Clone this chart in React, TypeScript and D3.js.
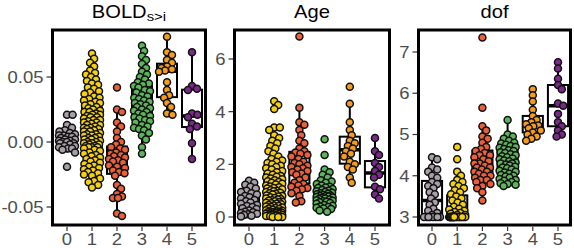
import React from 'react';
import * as d3 from 'd3';

const categories = ['0', '1', '2', '3', '4', '5'];
const colors = ['#a89fa8', '#f5d10f', '#e9603b', '#5db55a', '#f39c1e', '#7b2a8b'];

// BOLD s>i
const bold0 = [0.021, 0.021, 0.013, 0.011, 0.009, 0.008, 0.007, 0.006, 0.005, 0.005, 0.004, 0.004, 0.003, 0.002, 0.002, 0.001, 0.001, 0.0, 0.0, -0.001, -0.001, -0.002, -0.003, -0.003, -0.004, -0.005, -0.005, -0.006, -0.008, -0.019];
const bold1 = [0.068, 0.064, 0.061, 0.058, 0.055, 0.053, 0.052, 0.05, 0.048, 0.047, 0.045, 0.044, 0.042, 0.041, 0.039, 0.038, 0.037, 0.035, 0.034, 0.033, 0.032, 0.031, 0.03, 0.029, 0.028, 0.027, 0.026, 0.025,
  0.024, 0.023, 0.023, 0.022, 0.021, 0.021, 0.02, 0.019, 0.019, 0.018, 0.017, 0.017, 0.016, 0.015, 0.015, 0.014, 0.013, 0.013, 0.012, 0.011, 0.011, 0.01, 0.01, 0.009, 0.008, 0.008, 0.007, 0.006, 0.006, 0.005, 0.005, 0.004, 0.003, 0.003, 0.002, 0.002, 0.001, 0.0, 0.0, -0.001, -0.001, -0.002, -0.002, -0.003, -0.003, -0.004, -0.004, -0.004,
  -0.005, -0.006, -0.007, -0.008, -0.009, -0.01, -0.011, -0.012, -0.013, -0.014, -0.015, -0.016, -0.017, -0.018, -0.019, -0.02, -0.021, -0.022, -0.023, -0.024, -0.025, -0.026, -0.028, -0.03, -0.031, -0.033, -0.035];
const bold2 = [0.042, 0.025, 0.023, 0.015, 0.012, 0.008, 0.003, 0.0, -0.002, -0.004, -0.005, -0.006, -0.008, -0.009, -0.01, -0.011, -0.012, -0.013, -0.014, -0.015, -0.016, -0.018, -0.019, -0.02, -0.022, -0.023, -0.024, -0.026, -0.033, -0.036, -0.04, -0.042, -0.043, -0.043, -0.055, -0.057];
const bold3 = [-0.009, -0.004, 0.002, 0.005, 0.007, 0.009, 0.01, 0.011, 0.012, 0.013, 0.015, 0.016, 0.017, 0.018, 0.019, 0.02, 0.021, 0.022, 0.023, 0.024, 0.025, 0.026, 0.027, 0.028, 0.029, 0.03, 0.031, 0.032, 0.033, 0.034, 0.035, 0.036, 0.038, 0.039, 0.04, 0.042, 0.043, 0.044, 0.045, 0.046, 0.048, 0.05, 0.052, 0.054, 0.057, 0.06, 0.063, 0.066, 0.07, 0.074];
const bold4 = [0.021, 0.022, 0.027, 0.03, 0.034, 0.036, 0.04, 0.046, 0.054, 0.055, 0.056, 0.057, 0.058, 0.061, 0.063, 0.067, 0.069, 0.081];
const bold5 = [-0.013, -0.001, 0.01, 0.012, 0.014, 0.019, 0.021, 0.022, 0.04, 0.041, 0.043, 0.069];

// Age
const age0 = [0.02, 0.05, 0.08, 0.1, 0.12, 0.15, 0.18, 0.2, 0.25, 0.3, 0.33, 0.38, 0.42, 0.46, 0.5, 0.55, 0.6, 0.65, 0.7, 0.75, 0.8, 0.85, 0.9, 0.95, 1.0, 1.08, 1.15, 1.22, 1.3, 1.38];
const age1 = [0.0, 0.0, 0.0, 0.02, 0.03, 0.04, 0.05, 0.06, 0.07, 0.08, 0.09, 0.1, 0.11, 0.12, 0.13, 0.14, 0.15, 0.16, 0.17, 0.18, 0.19, 0.2, 0.21, 0.22, 0.24, 0.26, 0.28, 0.3,
  0.32, 0.34, 0.36, 0.38, 0.4, 0.42, 0.44, 0.46, 0.48, 0.5, 0.52, 0.54, 0.56, 0.58, 0.6, 0.62, 0.64, 0.66, 0.68, 0.7, 0.72, 0.75, 0.78, 0.8, 0.82, 0.85, 0.88, 0.9, 0.92, 0.95, 0.98, 1.0, 1.02, 1.05, 1.08, 1.1, 1.13, 1.16, 1.2, 1.23, 1.26, 1.3, 1.33, 1.36, 1.4, 1.43, 1.46, 1.5, 1.53, 1.56,
  1.6, 1.65, 1.7, 1.75, 1.8, 1.85, 1.9, 1.95, 2.0, 2.05, 2.1, 2.15, 2.2, 2.3, 2.4, 2.5, 2.6, 2.7, 2.8, 2.9, 3.0, 3.1, 3.3, 3.4, 3.4, 4.1, 4.25, 4.4];
const age2 = [0.55, 0.6, 0.8, 0.9, 1.0, 1.05, 1.1, 1.15, 1.2, 1.25, 1.3, 1.4, 1.5, 1.6, 1.65, 1.7, 1.75, 1.8, 1.85, 1.9, 1.95, 2.0, 2.05, 2.1, 2.2, 2.3, 2.35, 2.4, 2.45, 2.5, 2.6, 2.8, 2.9, 3.1, 3.3, 3.5, 3.6, 4.15, 6.85];
const age3 = [0.2, 0.25, 0.3, 0.32, 0.35, 0.38, 0.4, 0.43, 0.46, 0.5, 0.53, 0.56, 0.58, 0.6, 0.62, 0.64, 0.66, 0.68, 0.7, 0.72, 0.74, 0.76, 0.78, 0.8, 0.8, 0.82, 0.84, 0.86, 0.88, 0.9, 0.92, 0.95, 0.98, 1.0, 1.03, 1.06, 1.1, 1.12, 1.15, 1.2, 1.25, 1.3, 1.35, 1.4, 1.5, 1.6, 1.7, 1.8, 2.35, 2.95];
const age4 = [1.3, 1.5, 1.8, 1.9, 2.0, 2.1, 2.3, 2.4, 2.5, 2.6, 2.7, 2.8, 2.9, 3.1, 3.3, 3.6, 4.3, 4.95];
const age5 = [0.7, 0.85, 1.05, 1.15, 1.5, 1.6, 1.75, 1.9, 2.05, 2.35, 2.5, 3.0];

// dof
const dof0 = [3.0, 3.0, 3.0, 3.0, 3.0, 3.0, 3.0, 3.0, 3.05, 3.1, 3.15, 3.2, 3.3, 3.35, 3.45, 3.55, 3.6, 3.7, 3.75, 3.8, 3.85, 3.95, 4.0, 4.1, 4.15, 4.2, 4.4, 4.45];
const dof1 = [3.0, 3.0, 3.0, 3.0, 3.0, 3.0, 3.0, 3.0, 3.0, 3.0, 3.0, 3.0, 3.0, 3.0, 3.0, 3.0, 3.0, 3.0, 3.0, 3.0,
  3.02, 3.05, 3.05, 3.08, 3.1, 3.12, 3.15, 3.18, 3.2, 3.25, 3.3, 3.35, 3.4, 3.45, 3.5, 3.55, 3.6, 3.65, 3.7, 3.75, 3.8, 3.85, 3.9, 4.0, 4.1, 4.4, 4.7];
const dof2 = [3.4, 3.6, 3.7, 3.75, 3.8, 3.85, 3.9, 3.9, 3.95, 4.0, 4.0, 4.05, 4.1, 4.1, 4.15, 4.2, 4.2, 4.25, 4.3, 4.3, 4.35, 4.4, 4.45, 4.5, 4.5, 4.55, 4.6, 4.65, 4.7, 4.8, 4.9, 4.95, 5.1, 5.2, 5.65, 7.35];
const dof3 = [3.75, 3.78, 3.8, 3.82, 3.85, 3.88, 3.9, 3.92, 3.95, 3.98, 4.0, 4.02, 4.05, 4.08, 4.1, 4.12, 4.15, 4.18, 4.2, 4.22, 4.25, 4.27, 4.3, 4.3, 4.32, 4.35, 4.37, 4.4, 4.42, 4.45, 4.47, 4.5, 4.52, 4.55, 4.57, 4.6, 4.62, 4.65, 4.68, 4.7, 4.72, 4.75, 4.78, 4.8, 4.85, 4.9, 4.95, 5.0, 5.35];
const dof4 = [4.85, 4.9, 4.95, 5.0, 5.05, 5.1, 5.15, 5.2, 5.22, 5.25, 5.3, 5.35, 5.45, 5.6, 5.8, 5.95, 6.1];
const dof5 = [4.95, 5.0, 5.1, 5.2, 5.3, 5.5, 5.7, 5.75, 6.1, 6.2, 6.35, 6.6, 6.75];

const boldTicks = [-0.05, 0, 0.05];
const boldTickLabels = ['-0.05', '0.00', '0.05'];
const ageTicks = [0, 2, 4, 6];
const ageTickLabels = ['0', '2', '4', '6'];
const dofTicks = [3, 4, 5, 6, 7];
const dofTickLabels = ['3', '4', '5', '6', '7'];

const FONT = "'Liberation Sans', Arial, Helvetica, sans-serif";

type Panel = {
  title: string;
  sub?: string;
  groups: number[][];
  ticks: number[];
  tickLabels: string[];
  domain: [number, number];
  yRange: [number, number];
  left: number;
  right: number;
  x0: number;
  x5: number;
};

const panels: Panel[] = [
  { title: 'BOLD', sub: 's>i', groups: [bold0, bold1, bold2, bold3, bold4, bold5], ticks: boldTicks, tickLabels: boldTickLabels,
    domain: [-0.05, 0.05], yRange: [207, 77], left: 52.5, right: 205.5, x0: 67, x5: 192 },
  { title: 'Age', groups: [age0, age1, age2, age3, age4, age5], ticks: ageTicks, tickLabels: ageTickLabels,
    domain: [0, 6], yRange: [217, 59], left: 234.5, right: 389.5, x0: 249, x5: 375 },
  { title: 'dof', groups: [dof0, dof1, dof2, dof3, dof4, dof5], ticks: dofTicks, tickLabels: dofTickLabels,
    domain: [3, 7], yRange: [217, 52], left: 418.5, right: 570.5, x0: 432, x5: 558 },
];

const TOP = 30;
const BOTTOM = 225;
const R = 3.5;
const TICK_SX = 1.12;
const TITLE_SX = 1.15;

function swarm(ys: number[], d: number, maxW: number): number[] {
  const idx = ys.map((_, i) => i).sort((a, b) => ys[a] - ys[b]);
  const xs = new Array(ys.length).fill(0);
  const placed: number[] = [];
  for (const i of idx) {
    const y = ys[i];
    const near = placed.filter((j) => Math.abs(ys[j] - y) < d);
    const cands = [0];
    for (const j of near) {
      const dx = Math.sqrt(d * d - (ys[j] - y) ** 2);
      cands.push(xs[j] + dx + 0.01, xs[j] - dx - 0.01);
    }
    cands.sort((a, b) => Math.abs(a) - Math.abs(b));
    let best = NaN;
    for (const c of cands) {
      if (Math.abs(c) > maxW) continue;
      if (near.every((j) => (xs[j] - c) ** 2 + (ys[j] - y) ** 2 >= d * d - 0.001)) { best = c; break; }
    }
    if (isNaN(best)) {
      let bestScore = -1;
      for (let c = -maxW; c <= maxW; c += 0.5) {
        const m = Math.min(...near.map((j) => (xs[j] - c) ** 2 + (ys[j] - y) ** 2));
        if (m > bestScore) { bestScore = m; best = c; }
      }
    }
    xs[i] = best;
    placed.push(i);
  }
  return xs;
}

function boxStats(vals: number[]) {
  const s = [...vals].sort(d3.ascending);
  const q1 = d3.quantile(s, 0.25)!;
  const med = d3.quantile(s, 0.5)!;
  const q3 = d3.quantile(s, 0.75)!;
  const iqr = q3 - q1;
  const lo = d3.min(s.filter((v) => v >= q1 - 1.5 * iqr))!;
  const hi = d3.max(s.filter((v) => v <= q3 + 1.5 * iqr))!;
  return { q1, med, q3, lo, hi };
}

function PanelView({ p, pi }: { p: Panel; pi: number }) {
  const y = d3.scaleLinear().domain(p.domain).range(p.yRange);
  const x = d3.scalePoint<string>().domain(categories).range([p.x0, p.x5]);
  const step = (p.x5 - p.x0) / 5;
  const boxW = step * 0.8;
  const cx = (p.left + p.right) / 2;
  return (
    <g>
      <defs>
        <clipPath id={`clip${pi}`}>
          <rect x={p.left} y={TOP} width={p.right - p.left} height={BOTTOM - TOP} />
        </clipPath>
      </defs>
      <rect x={p.left} y={TOP} width={p.right - p.left} height={BOTTOM - TOP} fill="white" />
      <g clipPath={`url(#clip${pi})`}>
        {p.groups.map((vals, gi) => {
          const b = boxStats(vals);
          const xc = x(categories[gi])!;
          const ys = vals.map((v) => y(v));
          const offs = swarm(ys, 5.6, 8);
          const order = ys.map((_, i) => i).sort((a, c) => ys[a] - ys[c]);
          return (
            <g key={gi}>
              <line x1={xc} x2={xc} y1={y(b.hi)} y2={y(b.q3)} stroke="black" strokeWidth={2} />
              <line x1={xc} x2={xc} y1={y(b.lo)} y2={y(b.q1)} stroke="black" strokeWidth={2} />
              <rect x={xc - boxW / 2} y={y(b.q3)} width={boxW} height={y(b.q1) - y(b.q3)} fill="white" stroke="black" strokeWidth={2} />
              <line x1={xc - boxW / 2} x2={xc + boxW / 2} y1={y(b.med)} y2={y(b.med)} stroke="black" strokeWidth={3.5} />
              {order.map((i) => (
                <circle key={i} cx={xc + offs[i]} cy={ys[i]} r={R} fill={colors[gi]} stroke="#111" strokeWidth={1.5} />
              ))}
            </g>
          );
        })}
      </g>
      <rect x={p.left} y={TOP} width={p.right - p.left} height={BOTTOM - TOP} fill="none" stroke="black" strokeWidth={3} />
      {p.ticks.map((t, ti) => (
        <g key={ti}>
          <line x1={p.left - 6} x2={p.left - 1.5} y1={y(t)} y2={y(t)} stroke="#333" strokeWidth={1.2} />
          <text transform={`translate(${p.left - 9},${y(t)}) scale(${TICK_SX},1)`} dy="0.36em" textAnchor="end" fontSize={16.5} fill="#4d4d4d" fontFamily={FONT}>{p.tickLabels[ti]}</text>
        </g>
      ))}
      {categories.map((c) => (
        <g key={c}>
          <line x1={x(c)} x2={x(c)} y1={BOTTOM + 1.5} y2={BOTTOM + 6} stroke="#333" strokeWidth={1.2} />
          <text transform={`translate(${x(c)},${244.5}) scale(${TICK_SX},1)`} textAnchor="middle" fontSize={16.5} fill="#4d4d4d" fontFamily={FONT}>{c}</text>
        </g>
      ))}
      <text transform={`translate(${cx},${17.5}) scale(${TITLE_SX},1)`} textAnchor="middle" fontSize={17.5} fill="black" fontFamily={FONT}>
        {p.title}
        {p.sub ? <tspan fontSize={13} dy={3}>{p.sub}</tspan> : null}
      </text>
    </g>
  );
}

export default function App() {
  return (
    <svg width={574} height={248} style={{ position: 'absolute', left: 0, top: 0, background: 'white' }}>
      <rect x={0} y={0} width={574} height={248} fill="white" />
      {panels.map((p, pi) => (
        <PanelView key={pi} p={p} pi={pi} />
      ))}
    </svg>
  );
}
